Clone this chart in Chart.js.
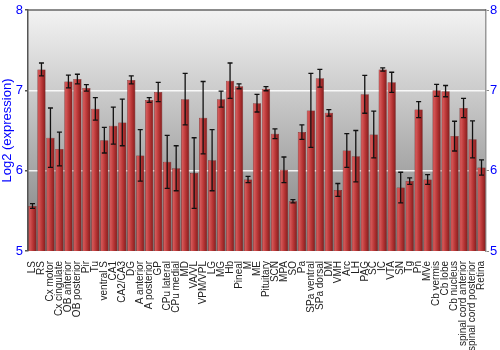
<!DOCTYPE html>
<html>
<head>
<meta charset="utf-8">
<script src="https://cdn.jsdelivr.net/npm/chart.js@4"></script>
<style>
html,body{margin:0;padding:0;background:#fff;}
canvas{display:block;}
</style>
</head>
<body>
<canvas id="c" width="500" height="350"></canvas>
<script>
const categories = ["LS","RS","Cx motor","Cx cingulate","OB anterior","OB posterior","Pir","Tu","ventral S","CA1","CA2/CA3","DG","A anterior","A posterior","GP","CPu lateral","CPu medial","MD","VA/VL","VPM/VPL","LG","MG","Hb","Pineal","M","ME","Pituitary","SCN","MPA","SO","Pa","SPa ventral","SPa dorsal","DM","VMH","Arc","LH","PAG","SC","IC","VTA","SN","Tg","Pn","MVe","Cb vermis","Cb lobe","Cb nucleus","spinal cord anterior","spinal cord posterior","Retina"];
const values = [5.56,7.26,6.41,6.27,7.11,7.14,7.03,6.77,6.38,6.56,6.60,7.13,6.19,6.88,6.98,6.11,6.03,6.89,5.97,6.66,6.13,6.89,7.12,7.05,5.89,6.84,7.02,6.46,6.01,5.62,6.48,6.75,7.15,6.72,5.76,6.25,6.18,6.95,6.45,7.26,7.10,5.79,5.87,6.76,5.89,7.00,6.99,6.43,6.78,6.39,6.04];
const errors = [0.03,0.08,0.37,0.21,0.08,0.06,0.04,0.14,0.16,0.23,0.29,0.05,0.32,0.03,0.12,0.33,0.28,0.32,0.44,0.45,0.38,0.10,0.22,0.03,0.04,0.11,0.025,0.06,0.16,0.02,0.09,0.46,0.11,0.04,0.08,0.21,0.32,0.235,0.29,0.02,0.125,0.19,0.04,0.1,0.06,0.075,0.07,0.185,0.12,0.23,0.095];
const yTicks = [5,6,7,8];

const bgPlugin = {
  id: 'bg',
  beforeDraw(chart) {
    const {ctx, chartArea: a} = chart;
    const g = ctx.createLinearGradient(0, a.top, 0, a.bottom);
    g.addColorStop(0, '#f3f3f3');
    g.addColorStop(1, '#7e7e7e');
    ctx.save();
    ctx.fillStyle = g;
    ctx.fillRect(a.left, a.top, a.right - a.left, a.bottom - a.top);
    ctx.restore();
  },
  afterDraw(chart) {
    const {ctx, chartArea: a} = chart;
    ctx.save();
    ctx.strokeStyle = '#666';
    ctx.lineWidth = 1.5;
    ctx.beginPath();
    ctx.moveTo(a.left, a.top);
    ctx.lineTo(a.right, a.top);
    ctx.stroke();
    ctx.restore();
  }
};

const errPlugin = {
  id: 'err',
  afterDatasetsDraw(chart) {
    const {ctx} = chart;
    const xs = chart.scales.x, ys = chart.scales.y;
    ctx.save();
    ctx.strokeStyle = '#111';
    ctx.lineWidth = 1.3;
    values.forEach((v, i) => {
      const x = xs.getPixelForValue(i);
      const y1 = ys.getPixelForValue(v + errors[i]);
      const y2 = ys.getPixelForValue(v - errors[i]);
      ctx.beginPath();
      ctx.moveTo(x, y1); ctx.lineTo(x, y2);
      ctx.moveTo(x - 2.5, y1); ctx.lineTo(x + 2.5, y1);
      ctx.moveTo(x - 2.5, y2); ctx.lineTo(x + 2.5, y2);
      ctx.stroke();
    });
    ctx.restore();
  }
};

function barColor(c) {
  const chart = c.chart;
  if (!chart.chartArea || !chart.scales.x) return '#b83838';
  const x = chart.scales.x.getPixelForValue(c.dataIndex);
  const g = chart.ctx.createLinearGradient(x - 4.5, 0, x + 4.5, 0);
  g.addColorStop(0, '#a83030');
  g.addColorStop(0.2, '#d45858');
  g.addColorStop(0.55, '#b83535');
  g.addColorStop(1, '#7a1a1a');
  return g;
}

new Chart(document.getElementById('c'), {
  type: 'bar',
  data: {
    labels: categories,
    datasets: [{
      data: values,
      backgroundColor: barColor,
      borderColor: '#6a1515',
      borderWidth: 0.5,
      barPercentage: 0.92,
      categoryPercentage: 1.0
    }]
  },
  options: {
    responsive: false,
    animation: false,
    layout: {padding: {top: 10, left: 0, right: 0, bottom: 0}},
    plugins: {legend: {display: false}, tooltip: {enabled: false}},
    scales: {
      x: {
        grid: {display: false},
        border: {display: false},
        ticks: {
          autoSkip: false, maxRotation: 90, minRotation: 90,
          color: '#222', padding: 2,
          font: {family: 'Liberation Sans, Arial, sans-serif', size: 10}
        },
        afterFit(s) { s.height = 99; }
      },
      y: {
        position: 'left',
        min: 5, max: 8,
        afterBuildTicks(s) { s.ticks = yTicks.map(v => ({value: v})); },
        ticks: {
          color: '#0000ff', padding: 2,
          font: {family: 'Liberation Sans, Arial, sans-serif', size: 13}
        },
        grid: {
          color: (c) => (c.tick && (c.tick.value === 6 || c.tick.value === 7)) ? 'rgba(255,255,255,0.85)' : 'rgba(0,0,0,0)',
          lineWidth: 1.5,
          tickColor: '#555',
          tickLength: 3
        },
        border: {display: true, color: '#555', width: 1.5},
        title: {
          display: true, text: 'Log2 (expression)', color: '#0000ff', padding: 0,
          font: {family: 'Liberation Sans, Arial, sans-serif', size: 13}
        },
        afterFit(s) { s.width = 28; }
      },
      y2: {
        position: 'right',
        min: 5, max: 8,
        afterBuildTicks(s) { s.ticks = yTicks.map(v => ({value: v})); },
        ticks: {
          color: '#0000ff', padding: 1,
          font: {family: 'Liberation Sans, Arial, sans-serif', size: 13}
        },
        grid: {drawOnChartArea: false, tickColor: '#888', tickLength: 3},
        border: {display: true, color: '#999', width: 1.5},
        afterFit(s) { s.width = 14; }
      }
    }
  },
  plugins: [bgPlugin, errPlugin]
});
</script>
</body>
</html>
